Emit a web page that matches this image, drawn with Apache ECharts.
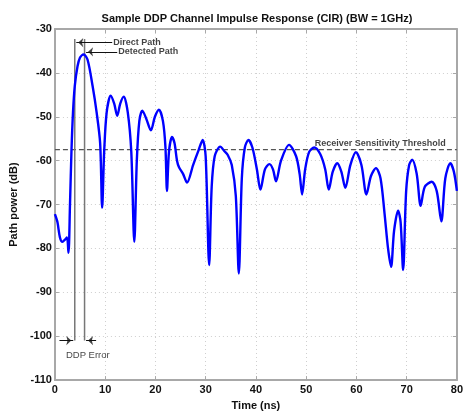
<!DOCTYPE html>
<html>
<head>
<meta charset="utf-8">
<script src="https://cdn.jsdelivr.net/npm/echarts@6/dist/echarts.min.js"></script>
<style>html,body{margin:0;padding:0;background:#fff}#c{width:466px;height:416px}</style>
</head>
<body>
<div id="c"></div>
<script>
// --- data ---
var timeNs = [0,0.5,1.0,1.5,2.0,2.4,2.7,3.0,3.3,3.6,3.95,4.5,5.0,5.7,6.5,7.5,8.3,9.0,9.4,9.8,10.3,11.1,11.8,12.4,13.0,13.7,14.5,15.2,15.8,16.3,16.8,17.4,18.2,19.1,19.9,20.7,21.5,22.0,22.3,22.7,23.3,23.8,24.3,24.7,25.5,26.3,27.5,28.6,29.4,30.0,30.7,31.2,31.8,32.9,33.7,34.4,35.2,36.0,36.6,37.2,37.8,38.5,39.3,40.2,40.9,41.8,42.7,43.4,44.0,45.0,46.6,48.0,48.7,49.2,49.8,50.6,51.6,52.8,53.8,54.5,55.3,56.2,57.0,57.8,58.8,59.9,61.0,62.0,62.9,63.9,64.8,65.6,66.3,66.9,67.5,68.3,68.8,69.3,69.9,70.5,71.1,72.0,72.8,73.6,75.0,76.0,76.9,77.7,78.7,79.4,80.0];
var powerDb = [-72.2,-74,-77.5,-78.5,-78,-77.5,-81,-70,-57.6,-49,-43,-38.5,-36.5,-35.8,-37,-43,-49,-56,-70.7,-58,-49,-45.2,-47,-49.8,-47,-45.4,-49,-58,-78.5,-60,-51,-48.6,-50.5,-53.1,-50,-48.4,-51,-57,-66.9,-58,-54.6,-56,-60,-61.5,-63,-65,-61,-57.6,-55.3,-59,-83.8,-66,-59,-56.8,-57.8,-58.7,-61,-68,-85.7,-64,-57,-55.3,-57,-62,-66.6,-62,-60.8,-62,-64.7,-60,-56.4,-59,-63,-67.7,-62,-58,-57,-58.5,-62,-66.6,-62.5,-60.6,-62.5,-66.2,-61,-58.1,-61,-67.7,-63.5,-61.7,-64,-72,-80,-84.2,-76,-71.4,-74,-84.9,-67,-61,-59.8,-63,-70.3,-66,-64.8,-67,-73.8,-64,-60.6,-62.5,-66.9];
var thresholdDb = -57.5;
var directPathNs = 3.95;
var detectedPathNs = 5.9;
var xTicks = [0,10,20,30,40,50,60,70,80];
var yTicks = [-110,-100,-90,-80,-70,-60,-50,-40,-30];

var curve = timeNs.map(function(t,i){return [t, powerDb[i]];});
var FONT = '"Liberation Sans", Arial, Helvetica, sans-serif';

var chart = echarts.init(document.getElementById('c'), null, {renderer:'canvas'});
var axisCommon = {
  type:'value',
  axisLine:{show:true, onZero:false, lineStyle:{color:'#a8a8a8', width:2}},
  axisTick:{show:true, inside:true, length:4, lineStyle:{color:'#a8a8a8', width:1}},
};
var AH = [7,5]; // arrowhead symbol size
chart.setOption({
  animation:false,
  backgroundColor:'#fff',
  title:{text:'Sample DDP Channel Impulse Response (CIR) (BW = 1GHz)', left:252, textAlign:'center', top:8,
    textStyle:{fontFamily:FONT, fontSize:11, fontWeight:'bold', color:'#111'}},
  grid:{left:48, right:7, top:29, bottom:31, containLabel:false},
  xAxis:[
    Object.assign({}, axisCommon, {min:xTicks[0], max:xTicks[xTicks.length-1], interval:10, position:'bottom',
      name:'Time (ns)', nameLocation:'middle', nameGap:16,
      nameTextStyle:{fontFamily:FONT, fontSize:11, fontWeight:'bold', color:'#111'},
      axisLabel:{margin:4, fontFamily:FONT, fontSize:11, fontWeight:'bold', color:'#111'},
      splitLine:{show:true, lineStyle:{color:'#cfcfcf', type:[1,3], width:1}}}),
    Object.assign({}, axisCommon, {min:0, max:80, interval:10, position:'top', axisLabel:{show:false}, splitLine:{show:false}})
  ],
  yAxis:[
    Object.assign({}, axisCommon, {min:yTicks[0], max:yTicks[yTicks.length-1], interval:10, position:'left',
      name:'Path power (dB)', nameLocation:'middle', nameGap:33,
      nameTextStyle:{fontFamily:FONT, fontSize:11, fontWeight:'bold', color:'#111'},
      axisLabel:{margin:3, fontFamily:FONT, fontSize:11, fontWeight:'bold', color:'#111'},
      splitLine:{show:true, lineStyle:{color:'#cfcfcf', type:[1,3], width:1}}}),
    Object.assign({}, axisCommon, {min:-110, max:-30, interval:10, position:'right', axisLabel:{show:false}, splitLine:{show:false}})
  ],
  series:[
    {type:'line', name:'threshold', data:[[0,thresholdDb],[80,thresholdDb]], symbol:'none',
      lineStyle:{color:'#555', width:1.3, type:[5,3]}, z:3},
    {type:'line', name:'direct', data:[[directPathNs,-32.3],[directPathNs,-101]], symbol:'none',
      lineStyle:{color:'#777', width:1.5}, z:3},
    {type:'line', name:'detected', data:[[detectedPathNs,-32.3],[detectedPathNs,-101]], symbol:'none',
      lineStyle:{color:'#777', width:1.5}, z:3},
    {type:'line', name:'CIR', data:curve, symbol:'none', smooth:0.3,
      lineStyle:{color:'#0000ff', width:2.4}, z:5},
    {type:'line', name:'arrows', data:[], symbol:'none', z:6,
      markLine:{silent:true, symbol:['none','none'], label:{show:false},
        lineStyle:{color:'#111', width:1, type:'solid'},
        data:[
          [{coord:[11.4,-33.1]},{coord:[directPathNs+0.3,-33.1]}],
          [{coord:[12.4,-35.2]},{coord:[detectedPathNs+0.3,-35.2]}],
          [{coord:[0.9,-101]},{coord:[directPathNs-0.3,-101]}],
          [{coord:[8.2,-101]},{coord:[detectedPathNs+0.3,-101]}]
        ]}},
    {type:'scatter', name:'arrowheadsLeft', symbol:'arrow', symbolSize:AH, symbolRotate:90, symbolOffset:[AH[1]/2+1,0],
      itemStyle:{color:'#111'}, z:7, silent:true,
      data:[[directPathNs,-33.1],[detectedPathNs,-35.2],[detectedPathNs,-101]]},
    {type:'scatter', name:'arrowheadsRight', symbol:'arrow', symbolSize:AH, symbolRotate:-90, symbolOffset:[-(AH[1]/2+1),0],
      itemStyle:{color:'#111'}, z:7, silent:true,
      data:[[directPathNs,-101]]},
    {type:'scatter', name:'notes', symbolSize:0, z:6, silent:true,
      label:{show:true, formatter:'{b}', fontFamily:FONT, fontSize:9, fontWeight:'bold', color:'#111', distance:1},
      data:[
        {name:'Direct Path', value:[11.4,-33.1], label:{position:'right'}},
        {name:'Detected Path', value:[12.4,-35.2], label:{position:'right'}},
        {name:'Receiver Sensitivity Threshold', value:[78,-56.2], label:{position:'left'}},
        {name:'DDP Error', value:[6.55,-104.4], label:{position:'inside', fontWeight:'normal', fontSize:9.5}}
      ]}
  ]
});
</script>
</body>
</html>
